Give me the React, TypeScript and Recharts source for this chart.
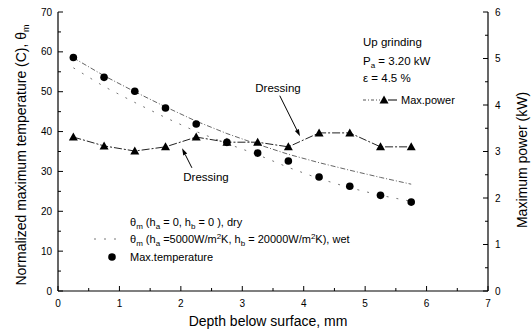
import { ComposedChart, Line, XAxis, YAxis, ReferenceLine } from 'recharts';

const depth = [0.25, 0.75, 1.25, 1.75, 2.25, 2.75, 3.25, 3.75, 4.25, 4.75, 5.25, 5.75];
const maxTemp = [58.6, 53.6, 50.1, 45.9, 41.9, 37.3, 34.6, 32.6, 28.6, 26.3, 24.0, 22.3];
const thetaDry = [58.5, 54.0, 50.0, 46.2, 42.6, 39.5, 36.8, 34.3, 32.2, 30.3, 28.5, 26.8];
const thetaWet = [56.0, 51.3, 47.3, 43.5, 40.0, 37.0, 34.2, 31.0, 28.2, 25.9, 24.0, 22.5];
const maxPower = [3.31, 3.12, 3.01, 3.10, 3.31, 3.2, 3.2, 3.10, 3.40, 3.40, 3.10, 3.10];

const xTicks = [0, 0.5, 1, 1.5, 2, 2.5, 3, 3.5, 4, 4.5, 5, 5.5, 6, 6.5, 7];
const tempTicks = [0, 5, 10, 15, 20, 25, 30, 35, 40, 45, 50, 55, 60, 65, 70];
const powerTicks = [0, 0.5, 1, 1.5, 2, 2.5, 3, 3.5, 4, 4.5, 5, 5.5, 6];

// dressing arrows: [fromX, fromTemp, toX, toTemp]
const arrowUpper = [3.61, 49.0, 3.94, 38.8];
const arrowLower = [2.18, 30.9, 2.02, 35.8];

const data = depth.map((x, i) => ({
  x,
  temp: maxTemp[i],
  dry: thetaDry[i],
  wet: thetaWet[i],
  power: maxPower[i],
}));

const tickFont = '"Liberation Sans Narrow", "Liberation Sans", Arial, sans-serif';
const font = '"Liberation Sans", Arial, sans-serif';

const BottomTick = ({ x, y, payload }: any) => {
  const major = Number.isInteger(payload.value);
  return (
    <g>
      <line x1={x} x2={x} y1={y} y2={y - (major ? 5 : 3)} stroke="#000" />
      {major && (
        <text x={x} y={y + 16} textAnchor="middle" fontSize={10} fontFamily={tickFont} fill="#000">
          {payload.value}
        </text>
      )}
    </g>
  );
};

const TopTick = ({ x, y, payload }: any) => {
  const major = Number.isInteger(payload.value);
  return <line x1={x} x2={x} y1={y} y2={y + (major ? 5 : 3)} stroke="#000" />;
};

const LeftTick = ({ x, y, payload }: any) => {
  const major = payload.value % 10 === 0;
  return (
    <g>
      <line x1={x} x2={x + (major ? 5 : 3)} y1={y} y2={y} stroke="#000" />
      {major && (
        <text x={x - 6} y={y + 3.5} textAnchor="end" fontSize={10} fontFamily={tickFont} fill="#000">
          {payload.value}
        </text>
      )}
    </g>
  );
};

const RightTick = ({ x, y, payload }: any) => {
  const major = Number.isInteger(payload.value);
  return (
    <g>
      <line x1={x} x2={x - (major ? 5 : 3)} y1={y} y2={y} stroke="#000" />
      {major && (
        <text x={x + 7} y={y + 3.5} textAnchor="start" fontSize={10} fontFamily={tickFont} fill="#000">
          {payload.value}
        </text>
      )}
    </g>
  );
};

const TriDot = (props: any) => {
  const { cx, cy, index } = props;
  if (cx == null || cy == null) return <g key={index} />;
  return (
    <polygon
      key={index}
      points={`${cx},${cy - 4.5} ${cx - 4.5},${cy + 3.5} ${cx + 4.5},${cy + 3.5}`}
      fill="#000"
    />
  );
};

const Arrow = (props: any) => {
  const { x1, y1, x2, y2 } = props;
  if ([x1, y1, x2, y2].some(v => v == null || isNaN(v))) return <g />;
  const a = Math.atan2(y2 - y1, x2 - x1);
  const L = 7;
  const w = 2.2;
  const bx = x2 - L * Math.cos(a);
  const by = y2 - L * Math.sin(a);
  const px = -Math.sin(a) * w;
  const py = Math.cos(a) * w;
  return (
    <g>
      <line x1={x1} y1={y1} x2={bx} y2={by} stroke="#000" strokeWidth={1} />
      <polygon points={`${x2},${y2} ${bx + px},${by + py} ${bx - px},${by - py}`} fill="#000" />
    </g>
  );
};

const App = () => {
  return (
    <div style={{ position: 'absolute', left: 0, top: 0, width: 532, height: 332, background: '#fff' }}>
      <ComposedChart width={532} height={332} data={data} margin={{ top: 12, right: 0, bottom: 0, left: 0 }}>
        <XAxis
          xAxisId="b"
          dataKey="x"
          type="number"
          domain={[0, 7]}
          ticks={xTicks}
          interval={0}
          height={41}
          tickSize={0}
          tickMargin={0}
          tickLine={false}
          axisLine={{ stroke: '#000', strokeWidth: 1.2 }}
          tick={(p: any) => <BottomTick {...p} />}
        />
        <XAxis
          xAxisId="t"
          orientation="top"
          dataKey="x"
          type="number"
          domain={[0, 7]}
          ticks={xTicks}
          interval={0}
          height={0}
          tickSize={0}
          tickMargin={0}
          tickLine={false}
          axisLine={{ stroke: '#000', strokeWidth: 1.2 }}
          tick={(p: any) => <TopTick {...p} />}
        />
        <YAxis
          yAxisId="left"
          type="number"
          domain={[0, 70]}
          ticks={tempTicks}
          interval={0}
          width={58}
          tickSize={0}
          tickMargin={0}
          tickLine={false}
          axisLine={{ stroke: '#000', strokeWidth: 1.2 }}
          tick={(p: any) => <LeftTick {...p} />}
        />
        <YAxis
          yAxisId="right"
          orientation="right"
          type="number"
          domain={[0, 6]}
          ticks={powerTicks}
          interval={0}
          width={44}
          tickSize={0}
          tickMargin={0}
          tickLine={false}
          axisLine={{ stroke: '#000', strokeWidth: 1.2 }}
          tick={(p: any) => <RightTick {...p} />}
        />

        {/* computed curves */}
        <Line
          xAxisId="b"
          yAxisId="left"
          dataKey="dry"
          stroke="#666"
          strokeWidth={1}
          strokeDasharray="5 2 1 2"
          dot={false}
          isAnimationActive={false}
        />
        <Line
          xAxisId="b"
          yAxisId="left"
          dataKey="wet"
          stroke="#777"
          strokeWidth={1}
          strokeDasharray="2 8"
          dot={false}
          isAnimationActive={false}
        />

        {/* measured power */}
        <Line
          xAxisId="b"
          yAxisId="right"
          dataKey="power"
          stroke="#222"
          strokeWidth={1}
          strokeDasharray="8 2 2 2"
          dot={TriDot}
          isAnimationActive={false}
        />

        {/* measured temperature */}
        <Line
          xAxisId="b"
          yAxisId="left"
          dataKey="temp"
          stroke="none"
          dot={{ r: 3.8, fill: '#000', stroke: 'none' }}
          isAnimationActive={false}
        />

        <ReferenceLine
          xAxisId="b"
          yAxisId="left"
          segment={[{ x: arrowUpper[0], y: arrowUpper[1] }, { x: arrowUpper[2], y: arrowUpper[3] }]}
          shape={(p: any) => <Arrow {...p} />}
        />
        <ReferenceLine
          xAxisId="b"
          yAxisId="left"
          segment={[{ x: arrowLower[0], y: arrowLower[1] }, { x: arrowLower[2], y: arrowLower[3] }]}
          shape={(p: any) => <Arrow {...p} />}
        />
      </ComposedChart>

      <svg
        width={532}
        height={332}
        style={{ position: 'absolute', left: 0, top: 0, pointerEvents: 'none' }}
        fontFamily={font}
        fill="#000"
      >
        <text transform="translate(26,155) rotate(-90)" textAnchor="middle" fontSize={14}>
          Normalized maximum temperature (C),{'  '}θ
          <tspan fontSize={9} dy={3}>m</tspan>
        </text>
        <text transform="translate(527,160) rotate(-90)" textAnchor="middle" fontSize={14}>
          Maximum power (kW)
        </text>
        <text x={268} y={326} textAnchor="middle" fontSize={14}>
          Depth below surface, mm
        </text>

        <text x={363} y={46} fontSize={11.5}>Up grinding</text>
        <text x={363} y={65} fontSize={11.5}>
          P<tspan fontSize={8} dy={3}>a</tspan>
          <tspan dy={-3}> = 3.20 kW</tspan>
        </text>
        <text x={363} y={82} fontSize={11.5}>ε = 4.5 %</text>

        <line x1={363} x2={380} y1={100} y2={100} stroke="#555" strokeDasharray="3 2 1 2" />
        <line x1={388} x2={397} y1={100} y2={100} stroke="#000" />
        <polygon points="384,95.5 379.5,103.5 388.5,103.5" fill="#000" />
        <text x={401} y={104} fontSize={11}>Max.power</text>

        <text x={278} y={92} textAnchor="middle" fontSize={11.5}>Dressing</text>
        <text x={206} y={181} textAnchor="middle" fontSize={11.5}>Dressing</text>

        <text x={130} y={226} fontSize={11}>
          θ<tspan fontSize={8} dy={3}>m</tspan>
          <tspan dy={-3}> (h</tspan>
          <tspan fontSize={8} dy={3}>a</tspan>
          <tspan dy={-3}> = 0, h</tspan>
          <tspan fontSize={8} dy={3}>b</tspan>
          <tspan dy={-3}> = 0 ), dry</tspan>
        </text>
        <line x1={94} x2={122} y1={239} y2={239} stroke="#777" strokeDasharray="2 8" />
        <text x={130} y={243} fontSize={11}>
          θ<tspan fontSize={8} dy={3}>m</tspan>
          <tspan dy={-3}> (h</tspan>
          <tspan fontSize={8} dy={3}>a</tspan>
          <tspan dy={-3}> =5000W/m</tspan>
          <tspan fontSize={8} dy={-4}>2</tspan>
          <tspan dy={4}>K, h</tspan>
          <tspan fontSize={8} dy={3}>b</tspan>
          <tspan dy={-3}> = 20000W/m</tspan>
          <tspan fontSize={8} dy={-4}>2</tspan>
          <tspan dy={4}>K), wet</tspan>
        </text>
        <circle cx={112} cy={257} r={3.8} fill="#000" />
        <text x={130} y={261} fontSize={11}>Max.temperature</text>
      </svg>
    </div>
  );
};

export default App;
